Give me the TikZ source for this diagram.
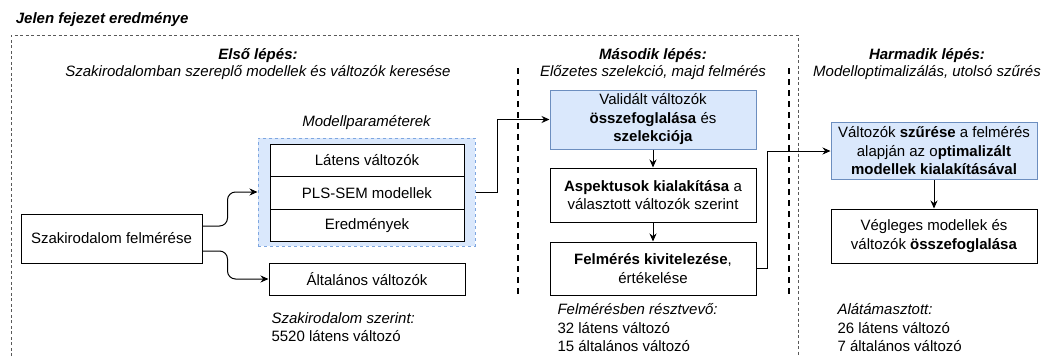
\documentclass[tikz,border=0pt]{standalone}
\usepackage{fontspec}
\setmainfont{Liberation Sans}
\usepackage{tikz}
\usetikzlibrary{arrows.meta,positioning}
\definecolor{boxblue}{HTML}{DAE8FC}
\definecolor{lineblue}{HTML}{6C8EBF}
\definecolor{dashblue}{HTML}{7EA6E0}

\begin{document}
\begin{tikzpicture}[x=1pt,y=-1pt,on grid,>={Stealth[length=8pt,width=7pt]},
  font=\fontsize{15}{18.5}\selectfont,line width=1pt,
  box/.style={draw,minimum width=206pt,align=center,inner sep=2pt},
  bluebox/.style={box,draw=lineblue,fill=boxblue},
  rowbox/.style={draw,fill=white,minimum width=194pt,minimum height=32.5pt},
  head/.style={align=center,font=\fontsize{15}{17}\selectfont\itshape},
  note/.style={align=left,anchor=north west,inner sep=0pt}]

   \useasboundingbox (0,0) rectangle (1049,356);
   \draw[line width=0.9pt,gray!70!black,dash pattern=on 3pt off 2.5pt] (11,356) |- (798,35) -- (798,356);
   \draw[line width=2pt,dash pattern=on 6pt off 5pt] (518,68) -- (518,294) (789,68) -- (789,294);

   \node[anchor=west,font=\fontsize{15}{18.5}\selectfont\bfseries\itshape] (title) at (12,20) {Jelen fejezet eredménye};
   \node[head] (step1) at (258,64) {\textbf{Első lépés:}\\Szakirodalomban szereplő modellek és változók keresése};
   \node[head] (step2) at (653,64.5) {\textbf{Második lépés:}\\Előzetes szelekció, majd felmérés};
   \node[head] (step3) at (927,64.5) {\textbf{Harmadik lépés:}\\Modelloptimalizálás, utolsó szűrés};

   \node[draw,minimum width=181pt,minimum height=49pt] (lit) at (111.5,238.5) {Szakirodalom felmérése};
   \node[draw=dashblue,fill=boxblue,dashed,minimum width=217pt,minimum height=108pt] (params) at (366.5,192) {};
   \node[font=\fontsize{15}{18.5}\selectfont\itshape] (paramlabel) [above=69pt of params] {Modellparaméterek};
   \node[rowbox] (lat) at (367,160.5) {Látens változók};
   \node[rowbox] (pls) [below=32.5pt of lat] {PLS-SEM modellek};
   \node[rowbox] (ered) [below=32.5pt of pls] {Eredmények};
   \node[rowbox,minimum width=196pt,minimum height=32pt] (gen) [below=86pt of pls] {Általános változók};

   \node[bluebox,minimum height=59pt] (valid) at (653,119.5) {Validált változók\\\textbf{összefoglalása} és\\\textbf{szelekciója}};
   \node[box,minimum height=54pt] (asp) [below=75.5pt of valid] {\textbf{Aspektusok kialakítása} a\\választott változók szerint};
   \node[box,minimum height=53pt] (felm) [below=73.5pt of asp] {\textbf{Felmérés kivitelezése},\\értékelése};

   \node[bluebox,minimum height=57pt] (szures) at (934,151) {Változók \textbf{szűrése} a felmérés\\alapján az o\textbf{ptimalizált}\\\textbf{modellek kialakításával}};
   \node[box,minimum height=54pt] (vegl) [below=85pt of szures] {Végleges modellek és\\változók \textbf{összefoglalása}};

   \node[note] (litnote) at (271,312) {\textit{Szakirodalom szerint:}\\5520 látens változó};
   \node[note] (felmnote) at (557,303) {\textit{Felmérésben résztvevő:}\\32 látens változó\\15 általános változó};
   \node[note] (veglnote) at (837,303) {\textit{Alátámasztott:}\\26 látens változó\\7 általános változó};

   \draw[->,rounded corners=8pt] ([yshift=12.5pt]lit.east) -- ++(25,0) |- (params.west);
   \draw[->,rounded corners=8pt] ([yshift=-12.5pt]lit.east) -- ++(25,0) |- (gen.west);
   \draw[->] (params.east) -- ++(22,0) |- (valid.west);
   \draw[->] (valid) -- (asp);
   \draw[->] (asp) -- (felm);
   \draw[->] (felm.east) -- ++(11,0) |- (szures.west);
   \draw[->] (szures) -- (vegl);
\end{tikzpicture}
\end{document}
